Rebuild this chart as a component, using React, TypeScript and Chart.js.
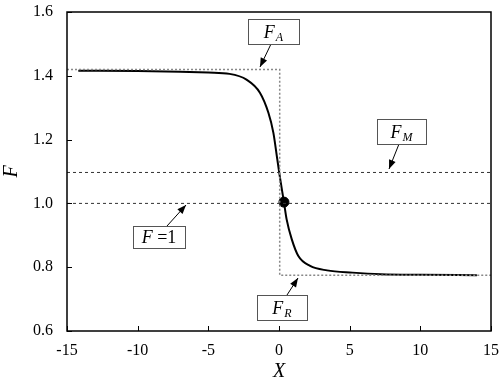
import React, { useEffect, useRef } from "react";
import { Chart, registerables } from "chart.js";

Chart.register(...registerables);

const curveX = [-14.2, -10, -7, -5, -3.5, -2.3, -1.35, -0.75, -0.4, -0.12, 0.07, 0.35, 0.54, 0.9, 1.37, 2.2, 3.4, 5.2, 7.2, 10, 14];
const curveF = [1.416, 1.415, 1.413, 1.41, 1.406, 1.388, 1.347, 1.284, 1.222, 1.138, 1.081, 1.004, 0.95, 0.888, 0.835, 0.804, 0.79, 0.783, 0.778, 0.776, 0.775];

const FA = 1.42;
const FR = 0.775;
const FM = 1.097;
const F1 = 1.0;
const stepX = 0.05;
const dotX = 0.35;
const dotF = 1.004;

const xTicks = [-15, -10, -5, 0, 5, 10, 15];
const yTicks = [0.6, 0.8, 1.0, 1.2, 1.4, 1.6];

const SERIF = "'Liberation Serif', 'Times New Roman', serif";

type Label = { x: number; y: number; w: number; h: number; main: string; sub?: string; rest?: string; ax0: number; ay0: number; ax1: number; ay1: number };

const labels: Label[] = [
  { x: 248, y: 19, w: 51, h: 25, main: "F", sub: "A", ax0: 271, ay0: 44, ax1: 260, ay1: 67 },
  { x: 377, y: 119, w: 49, h: 25, main: "F", sub: "M", ax0: 399, ay0: 144, ax1: 389, ay1: 169 },
  { x: 133, y: 226, w: 52, h: 22, main: "F", rest: " =1", ax0: 167, ay0: 226, ax1: 186, ay1: 205 },
  { x: 257, y: 295, w: 50, h: 25, main: "F", sub: "R", ax0: 287, ay0: 295, ax1: 298, ay1: 278 },
];

const annoPlugin = {
  id: "anno",
  afterDraw(chart: any) {
    const ctx = chart.ctx as CanvasRenderingContext2D;
    const { left, right, top, bottom } = chart.chartArea;
    const xs = chart.scales.x;
    const ys = chart.scales.y;
    ctx.save();
    ctx.strokeStyle = "#000";
    ctx.lineWidth = 1.5;
    ctx.strokeRect(left, top, right - left, bottom - top);
    ctx.lineWidth = 1;
    xTicks.forEach((v) => {
      const px = Math.round(xs.getPixelForValue(v)) + 0.5;
      ctx.beginPath();
      ctx.moveTo(px, bottom);
      ctx.lineTo(px, bottom - 5);
      ctx.stroke();
    });
    yTicks.forEach((v) => {
      const py = Math.round(ys.getPixelForValue(v)) + 0.5;
      ctx.beginPath();
      ctx.moveTo(left, py);
      ctx.lineTo(left + 5, py);
      ctx.stroke();
    });
    ctx.fillStyle = "#000";
    ctx.font = `italic 20px ${SERIF}`;
    ctx.textAlign = "center";
    ctx.textBaseline = "middle";
    ctx.fillText("X", (left + right) / 2, 372);
    ctx.save();
    ctx.translate(12, (top + bottom) / 2);
    ctx.rotate(-Math.PI / 2);
    ctx.fillText("F", 0, 0);
    ctx.restore();
    labels.forEach((l) => {
      ctx.strokeStyle = "#000";
      ctx.fillStyle = "#000";
      ctx.lineWidth = 1;
      ctx.beginPath();
      ctx.moveTo(l.ax0, l.ay0);
      ctx.lineTo(l.ax1, l.ay1);
      ctx.stroke();
      const ang = Math.atan2(l.ay1 - l.ay0, l.ax1 - l.ax0);
      const hl = 9, hw = 3.5;
      ctx.beginPath();
      ctx.moveTo(l.ax1, l.ay1);
      ctx.lineTo(l.ax1 - hl * Math.cos(ang) + hw * Math.sin(ang), l.ay1 - hl * Math.sin(ang) - hw * Math.cos(ang));
      ctx.lineTo(l.ax1 - hl * Math.cos(ang) - hw * Math.sin(ang), l.ay1 - hl * Math.sin(ang) + hw * Math.cos(ang));
      ctx.closePath();
      ctx.fill();
      ctx.fillStyle = "#fff";
      ctx.fillRect(l.x, l.y, l.w, l.h);
      ctx.strokeStyle = "#555";
      ctx.strokeRect(l.x + 0.5, l.y + 0.5, l.w, l.h);
      ctx.fillStyle = "#000";
      ctx.textBaseline = "alphabetic";
      ctx.textAlign = "left";
      ctx.font = `italic 18px ${SERIF}`;
      const mw = ctx.measureText(l.main).width;
      let sw = 0;
      let restW = 0;
      if (l.sub) {
        ctx.font = `italic 12px ${SERIF}`;
        sw = ctx.measureText(l.sub).width + 1;
      }
      if (l.rest) {
        ctx.font = `18px ${SERIF}`;
        restW = ctx.measureText(l.rest).width;
      }
      const total = mw + sw + restW;
      const sx = l.x + (l.w - total) / 2;
      const base = l.y + l.h / 2 + 6;
      ctx.font = `italic 18px ${SERIF}`;
      ctx.fillText(l.main, sx, base);
      if (l.sub) {
        ctx.font = `italic 12px ${SERIF}`;
        ctx.fillText(l.sub, sx + mw + 1, base + 3);
      }
      if (l.rest) {
        ctx.font = `18px ${SERIF}`;
        ctx.fillText(l.rest, sx + mw, base);
      }
    });
    ctx.restore();
  },
};

export default function App() {
  const ref = useRef<HTMLCanvasElement>(null);
  useEffect(() => {
    if (!ref.current) return;
    const curve = curveX.map((x, i) => ({ x, y: curveF[i] }));
    const chart = new Chart(ref.current, {
      type: "line",
      data: {
        datasets: [
          {
            label: "FA/FR",
            data: [
              { x: -15, y: FA },
              { x: stepX, y: FA },
              { x: stepX, y: FR },
              { x: 15, y: FR },
            ],
            borderColor: "#888",
            borderWidth: 1.5,
            borderDash: [2, 2],
            pointRadius: 0,
            tension: 0,
          },
          {
            label: "FM",
            data: [
              { x: -15, y: FM },
              { x: 15, y: FM },
            ],
            borderColor: "#333",
            borderWidth: 1,
            borderDash: [3, 3],
            pointRadius: 0,
          },
          {
            label: "F=1",
            data: [
              { x: -15, y: F1 },
              { x: 15, y: F1 },
            ],
            borderColor: "#333",
            borderWidth: 1,
            borderDash: [3, 3],
            pointRadius: 0,
          },
          {
            label: "F",
            data: curve,
            borderColor: "#000",
            borderWidth: 2,
            pointRadius: 0,
            cubicInterpolationMode: "monotone",
          },
          {
            label: "dot",
            data: [{ x: dotX, y: dotF }],
            borderColor: "#000",
            backgroundColor: "#000",
            pointRadius: 5,
            showLine: false,
          },
        ],
      },
      options: {
        animation: false,
        responsive: false,
        layout: { padding: { top: 12, right: 9, left: 0, bottom: 0 } },
        plugins: { legend: { display: false }, tooltip: { enabled: false } },
        scales: {
          x: {
            type: "linear",
            min: -15,
            max: 15,
            afterBuildTicks: (s: any) => {
              s.ticks = xTicks.map((v) => ({ value: v }));
            },
            afterFit: (s: any) => {
              s.height = 53;
              s.paddingLeft = 0;
              s.paddingRight = 0;
            },
            grid: { display: false, drawTicks: false },
            border: { display: false },
            ticks: {
              color: "#000",
              font: { family: SERIF, size: 16 },
              padding: 10,
              maxRotation: 0,
              callback: (v: any) => String(v),
            },
          },
          y: {
            type: "linear",
            min: 0.6,
            max: 1.6,
            afterBuildTicks: (s: any) => {
              s.ticks = yTicks.map((v) => ({ value: v }));
            },
            afterFit: (s: any) => {
              s.width = 67;
              s.paddingTop = 0;
              s.paddingBottom = 0;
            },
            grid: { display: false, drawTicks: false },
            border: { display: false },
            ticks: {
              color: "#000",
              font: { family: SERIF, size: 16 },
              padding: 14,
              callback: (v: any) => Number(v).toFixed(1),
            },
          },
        },
      },
      plugins: [annoPlugin],
    } as any);
    return () => chart.destroy();
  }, []);
  return (
    <div style={{ position: "fixed", left: 0, top: 0, width: 500, height: 384, background: "#fff" }}>
      <canvas ref={ref} width={500} height={384} style={{ width: 500, height: 384 }} />
    </div>
  );
}
